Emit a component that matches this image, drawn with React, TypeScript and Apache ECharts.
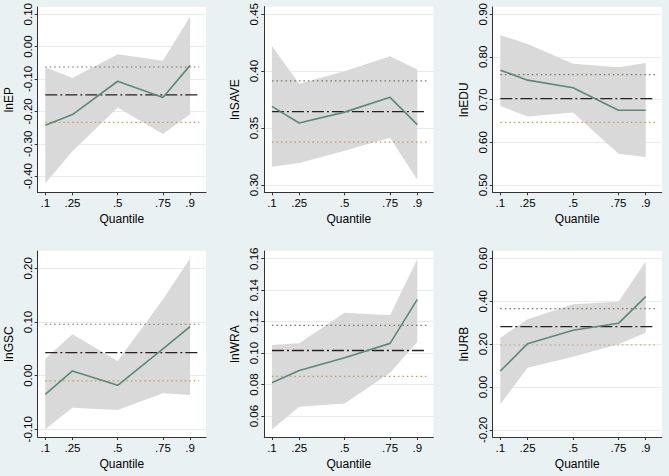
import React, { useEffect, useRef } from "react";
import * as echarts from "echarts";

// Quantiles
const quantiles = [0.1, 0.25, 0.5, 0.75, 0.9];
const quantileLabels = [".1", ".25", ".5", ".75", ".9"];
const olsSpan = [0.1, 0.95];

// lnEP
const epCoef = [-0.243, -0.21, -0.107, -0.157, -0.058];
const epUpper = [-0.064, -0.097, -0.024, -0.044, 0.092];
const epLower = [-0.422, -0.323, -0.188, -0.27, -0.209];
const epOls = [-0.149, -0.234, -0.063]; // coef, lo, hi
const epTicks = [-0.4, -0.3, -0.2, -0.1, 0, 0.1];

// lnSAVE
const saveCoef = [0.369, 0.3545, 0.364, 0.377, 0.353];
const saveUpper = [0.422, 0.389, 0.4, 0.413, 0.4015];
const saveLower = [0.316, 0.3194, 0.33, 0.3415, 0.3043];
const saveOls = [0.3644, 0.3377, 0.3914];
const saveTicks = [0.3, 0.35, 0.4, 0.45];

// lnEDU
const eduCoef = [0.769, 0.7456, 0.728, 0.675, 0.675];
const eduUpper = [0.851, 0.8305, 0.784, 0.7757, 0.7857];
const eduLower = [0.685, 0.6606, 0.67, 0.5734, 0.5656];
const eduOls = [0.7023, 0.6467, 0.7587];
const eduTicks = [0.5, 0.6, 0.7, 0.8, 0.9];

// lnGSC
const gscCoef = [-0.0348, 0.0087, -0.018, 0.05, 0.0913];
const gscUpper = [0.0317, 0.077, 0.0273, 0.142, 0.218];
const gscLower = [-0.1, -0.0596, -0.064, -0.0329, -0.036];
const gscOls = [0.0429, -0.0099, 0.0957];
const gscTicks = [-0.1, 0, 0.1, 0.2];

// lnWRA
const wraCoef = [0.0812, 0.089, 0.0971, 0.1062, 0.1342];
const wraUpper = [0.1051, 0.1062, 0.1257, 0.124, 0.1596];
const wraLower = [0.0515, 0.0659, 0.068, 0.0875, 0.107];
const wraOls = [0.1017, 0.0852, 0.1176];
const wraTicks = [0.06, 0.08, 0.1, 0.12, 0.14, 0.16];

// lnURB
const urbCoef = [0.075, 0.2023, 0.2645, 0.297, 0.4214];
const urbUpper = [0.2303, 0.3157, 0.3856, 0.398, 0.5845];
const urbLower = [-0.0804, 0.0905, 0.1417, 0.1992, 0.2536];
const urbOls = [0.2816, 0.196, 0.3654];
const urbTicks = [-0.2, 0, 0.2, 0.4, 0.6];

const variables = [
  { name: "lnEP", coef: epCoef, upper: epUpper, lower: epLower, ols: epOls, ticks: epTicks },
  { name: "lnSAVE", coef: saveCoef, upper: saveUpper, lower: saveLower, ols: saveOls, ticks: saveTicks },
  { name: "lnEDU", coef: eduCoef, upper: eduUpper, lower: eduLower, ols: eduOls, ticks: eduTicks },
  { name: "lnGSC", coef: gscCoef, upper: gscUpper, lower: gscLower, ols: gscOls, ticks: gscTicks },
  { name: "lnWRA", coef: wraCoef, upper: wraUpper, lower: wraLower, ols: wraOls, ticks: wraTicks },
  { name: "lnURB", coef: urbCoef, upper: urbUpper, lower: urbLower, ols: urbOls, ticks: urbTicks },
];

// layout (pixels) and axis extents per panel
const layout = [
  { left: 37.7, top: 5, width: 168.3, height: 187.3, ymin: -0.4498, ymax: 0.1223 },
  { left: 264.3, top: 5, width: 169, height: 187.3, ymin: 0.2936, ymax: 0.4567 },
  { left: 492.7, top: 5, width: 169, height: 187.3, ymin: 0.4831, ymax: 0.9169 },
  { left: 37.7, top: 251, width: 168.3, height: 186, ymin: -0.1143, ymax: 0.2322 },
  { left: 264.3, top: 251, width: 169, height: 186, ymin: 0.0467, ymax: 0.1649 },
  { left: 492.7, top: 251, width: 169, height: 186, ymin: -0.2326, ymax: 0.634 },
];

const FONT = "Liberation Sans, Arial, Helvetica, sans-serif";
const AXIS_COLOR = "#333333";

function buildOption() {
  const grid: any[] = [];
  const xAxis: any[] = [];
  const yAxis: any[] = [];
  const series: any[] = [];

  variables.forEach((v, i) => {
    const L = layout[i];
    grid.push({
      left: L.left,
      top: L.top,
      width: L.width,
      height: L.height,
      backgroundColor: "#ffffff",
      show: true,
      borderWidth: 0,
    });
    xAxis.push({
      type: "value",
      gridIndex: i,
      min: 0.058,
      max: 0.988,
      name: "Quantile",
      nameLocation: "middle",
      nameGap: 21,
      nameTextStyle: { fontSize: 12, color: "#000", fontFamily: FONT },
      axisLine: { show: true, onZero: false, lineStyle: { color: AXIS_COLOR, width: 1 } },
      axisTick: { show: true, length: 3, customValues: quantiles, lineStyle: { color: AXIS_COLOR } },
      axisLabel: {
        customValues: quantiles,
        margin: 5,
        fontSize: 11.5,
        color: "#000",
        fontFamily: FONT,
        formatter: (val: number) => {
          const k = quantiles.findIndex((q) => Math.abs(q - val) < 1e-6);
          return k >= 0 ? quantileLabels[k] : "";
        },
      },
      splitLine: { show: false },
    });
    yAxis.push({
      type: "value",
      gridIndex: i,
      min: L.ymin,
      max: L.ymax,
      name: v.name,
      nameLocation: "middle",
      nameGap: 23,
      nameRotate: 90,
      nameTextStyle: { fontSize: 12, color: "#000", fontFamily: FONT },
      axisLine: { show: true, onZero: false, lineStyle: { color: AXIS_COLOR, width: 1 } },
      axisTick: { show: true, length: 3, customValues: v.ticks, lineStyle: { color: AXIS_COLOR } },
      axisLabel: {
        customValues: v.ticks,
        rotate: 90,
        margin: 4,
        fontSize: 11.5,
        color: "#000",
        fontFamily: FONT,
        formatter: (val: number) => val.toFixed(2),
      },
      splitLine: { show: true, lineStyle: { color: "#E4ECEE", width: 1 } },
    });

    const upper = v.upper;
    const lower = v.lower;
    series.push({
      type: "custom",
      xAxisIndex: i,
      yAxisIndex: i,
      silent: true,
      z: 1,
      data: quantiles.map((q, j) => [q, lower[j], upper[j]]),
      encode: { x: 0, y: [1, 2] },
      renderItem: (params: any, api: any) => {
        if (params.dataIndex !== 0) return null;
        const pts: number[][] = [];
        quantiles.forEach((q, j) => pts.push(api.coord([q, upper[j]])));
        for (let j = quantiles.length - 1; j >= 0; j--) pts.push(api.coord([quantiles[j], lower[j]]));
        return { type: "polygon", shape: { points: pts }, style: { fill: "#D9D9D9" } };
      },
    });
    // OLS confidence bounds (dotted)
    series.push({
      type: "line",
      xAxisIndex: i,
      yAxisIndex: i,
      z: 3,
      symbol: "none",
      silent: true,
      data: olsSpan.map((x) => [x, v.ols[2]]),
      lineStyle: { color: "#77735C", width: 1.2, type: [1.5, 3] },
    });
    series.push({
      type: "line",
      xAxisIndex: i,
      yAxisIndex: i,
      z: 3,
      symbol: "none",
      silent: true,
      data: olsSpan.map((x) => [x, v.ols[1]]),
      lineStyle: { color: "#C49A55", width: 1.2, type: [1.5, 3] },
    });
    // OLS coefficient (long dash)
    series.push({
      type: "line",
      xAxisIndex: i,
      yAxisIndex: i,
      z: 4,
      symbol: "none",
      silent: true,
      data: olsSpan.map((x) => [x, v.ols[0]]),
      lineStyle: { color: "#2A1E20", width: 1.4, type: [12, 3, 2, 3] },
    });
    // Quantile coefficients
    series.push({
      type: "line",
      xAxisIndex: i,
      yAxisIndex: i,
      z: 5,
      symbol: "none",
      silent: true,
      data: quantiles.map((q, j) => [q, v.coef[j]]),
      lineStyle: { color: "#5A8A77", width: 1.6 },
    });
  });

  return {
    animation: false,
    backgroundColor: "#EAF1F3",
    textStyle: { fontFamily: FONT },
    grid,
    xAxis,
    yAxis,
    series,
  };
}

export default function App() {
  const ref = useRef<HTMLDivElement>(null);
  useEffect(() => {
    if (!ref.current) return;
    const chart = echarts.init(ref.current, undefined, { renderer: "svg" });
    chart.setOption(buildOption());
    return () => chart.dispose();
  }, []);
  return (
    <div
      ref={ref}
      style={{ position: "fixed", left: 0, top: 0, width: 669, height: 476 }}
    />
  );
}
